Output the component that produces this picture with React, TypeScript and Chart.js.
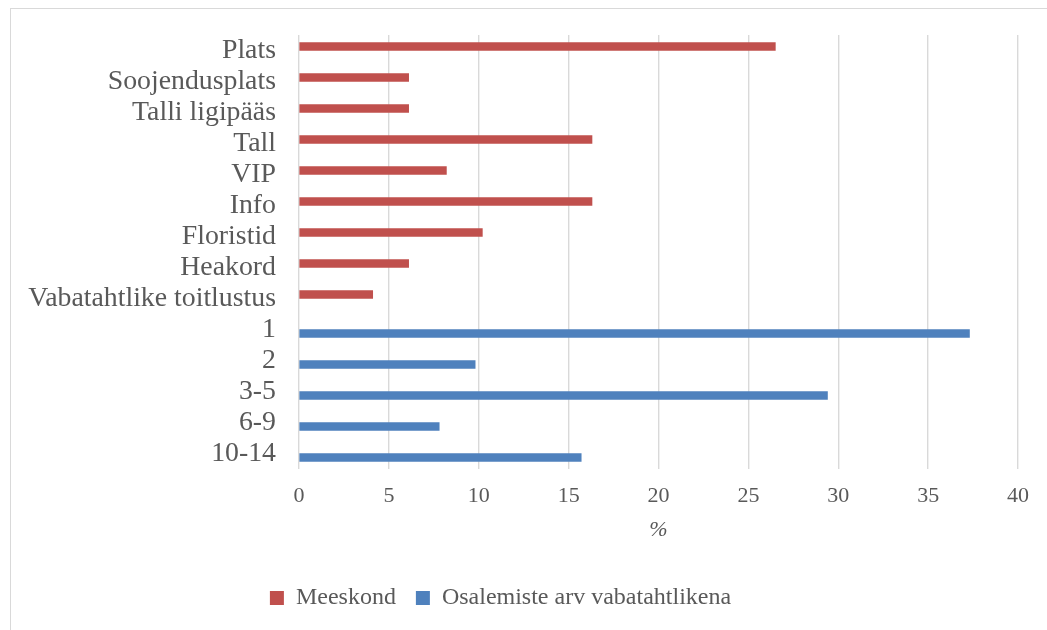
import { useEffect, useRef } from "react";
import { Chart, registerables } from "chart.js";

Chart.register(...registerables);

const categories = [
  "Plats",
  "Soojendusplats",
  "Talli ligipääs",
  "Tall",
  "VIP",
  "Info",
  "Floristid",
  "Heakord",
  "Vabatahtlike toitlustus",
  "1",
  "2",
  "3-5",
  "6-9",
  "10-14",
];

const meeskondValues = [26.5, 6.1, 6.1, 16.3, 8.2, 16.3, 10.2, 6.1, 4.1, null, null, null, null, null];
const osalemisteValues = [null, null, null, null, null, null, null, null, null, 37.3, 9.8, 29.4, 7.8, 15.7];

const seriesLabels = ["Meeskond", "Osalemiste arv vabatahtlikena"];
const seriesColors = ["#C0504D", "#4F81BD"];

const xMin = 0;
const xMax = 40;
const xStep = 5;
const xTitle = "%";

const FONT = "'Liberation Serif', 'Times New Roman', serif";
const TEXT = "#595959";

const CANVAS_LEFT = -42;
const CANVAS_W = 1085;

export default function App() {
  const ref = useRef<HTMLCanvasElement | null>(null);

  useEffect(() => {
    if (!ref.current) return;
    const chart = new Chart(ref.current, {
      type: "bar",
      data: {
        labels: categories,
        datasets: [
          {
            label: seriesLabels[0],
            data: meeskondValues as any,
            backgroundColor: seriesColors[0],
            borderWidth: 0,
            barThickness: 8,
          },
          {
            label: seriesLabels[1],
            data: osalemisteValues as any,
            backgroundColor: seriesColors[1],
            borderWidth: 0,
            barThickness: 8,
          },
        ],
      },
      options: {
        indexAxis: "y",
        animation: false,
        responsive: false,
        devicePixelRatio: 1,
        layout: { padding: { left: 0, right: 0, top: 35, bottom: 10 } },
        plugins: {
          tooltip: { enabled: false },
          legend: {
            position: "bottom",
            labels: {
              font: { family: FONT, size: 24 },
              color: TEXT,
              boxWidth: 14,
              boxHeight: 14,
              padding: 20,
            },
          },
        },
        scales: {
          x: {
            type: "linear",
            min: xMin,
            max: xMax,
            ticks: {
              stepSize: xStep,
              font: { family: FONT, size: 22 },
              color: TEXT,
              padding: 14,
            },
            grid: { color: "#d9d9d9", lineWidth: 1.4, drawTicks: false },
            border: { display: false },
            title: {
              display: true,
              text: xTitle,
              font: { family: FONT, size: 22, style: "italic" },
              color: TEXT,
              padding: { top: 0, bottom: 23 },
            },
            afterFit: (s: any) => {
              s.height = 97;
            },
          },
          y: {
            type: "category",
            grid: { display: false, drawTicks: false },
            border: { display: false },
            ticks: {
              font: { family: FONT, size: 27.8 },
              color: TEXT,
              padding: 23,
              autoSkip: false,
            },
            afterFit: (s: any) => {
              s.width = 299 - CANVAS_LEFT;
              s.paddingTop = 0;
              s.paddingBottom = 0;
            },
          },
        },
      },
    });
    return () => chart.destroy();
  }, []);

  return (
    <div
      style={{
        position: "fixed",
        left: 0,
        top: 0,
        width: 1047,
        height: 630,
        overflow: "hidden",
        background: "#ffffff",
      }}
    >
      <div
        style={{
          position: "absolute",
          left: 10,
          top: 8,
          width: 1100,
          height: 700,
          border: "1px solid #d9d9d9",
          boxSizing: "border-box",
        }}
      />
      <canvas
        ref={ref}
        width={CANVAS_W}
        height={630}
        style={{ position: "absolute", left: CANVAS_LEFT, top: 0, width: CANVAS_W, height: 630 }}
      />
    </div>
  );
}
